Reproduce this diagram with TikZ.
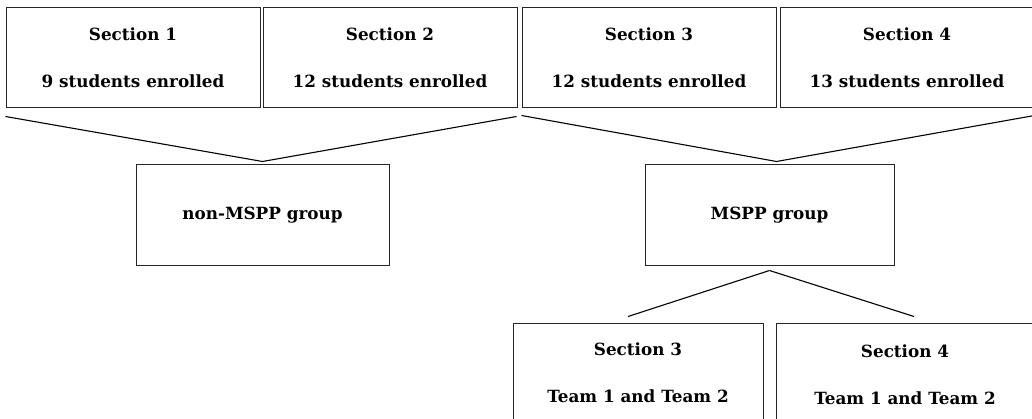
\documentclass[tikz,border=0pt]{standalone}
\usepackage{fontspec}
\setmainfont{DejaVu Serif}
\begin{document}
\begin{tikzpicture}[x=1pt,y=-1pt,
  box/.style={draw=black!85,line width=1pt,minimum width=#1,inner sep=0pt,align=center,
    font=\fontsize{16.8}{47}\selectfont\bfseries},
  box/.default=254pt,
  link/.style={draw=black,line width=1.1pt}]
\useasboundingbox (0,0) rectangle (1032,419);
\clip (0,0) rectangle (1032,419);
\node[box,minimum height=100pt] (s1) at (133,58) {Section 1\\9 students enrolled};
\node[box,minimum height=100pt] (s2) at (390,58) {Section 2\\12 students enrolled};
\node[box,minimum height=100pt] (s3) at (649,58) {Section 3\\12 students enrolled};
\node[box,minimum height=100pt] (s4) at (907,58) {Section 4\\13 students enrolled};
\node[box=253pt,minimum height=101pt] (nm) at (262.5,215.5) {non-MSPP group};
\node[box=249pt,minimum height=101pt] (ms) at (769.5,215.5) {MSPP group};
\node[box=250pt,minimum height=100pt] (b3) at (638,373) {Section 3\\Team 1 and Team 2};
\node[box=258pt,minimum height=104pt] (b4) at (905,375) {Section 4\\Team 1 and Team 2};
\draw[link] ([yshift=-8pt]s1.south west) -- ([yshift=3pt]nm.north) -- ([xshift=-1pt,yshift=-8pt]s2.south east);
\draw[link] ([yshift=-7pt]s3.south west) -- ([xshift=7pt,yshift=3pt]ms.north) -- ([yshift=-7pt]s4.south east);
\draw[link] ([xshift=-10pt,yshift=6pt]b3.north) -- ([yshift=-4pt]ms.south);
\draw[link] ([yshift=-4pt]ms.south) -- ([xshift=9pt,yshift=6pt]b4.north);
\end{tikzpicture}
\end{document}
